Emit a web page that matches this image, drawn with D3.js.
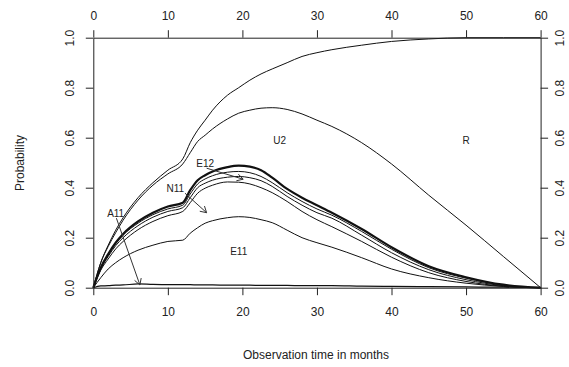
<!DOCTYPE html>
<html>
<head>
<meta charset="utf-8">
<script src="https://cdn.jsdelivr.net/npm/d3@7"></script>
<style>
  body { margin: 0; background: #fff; }
  svg { font-family: "Liberation Sans", Arial, sans-serif; }
</style>
</head>
<body>
<div id="container"></div>
<script>
// months and stacked probability boundaries
let months = [0, 1, 2, 3, 4, 6, 8, 10, 12, 13, 14, 15, 16, 18, 19.5, 21, 22.5, 24, 26, 28, 30, 32, 36, 40, 45, 50, 55, 60];

let topCurve = [0, 0.10, 0.17, 0.23, 0.28, 0.36, 0.42, 0.47, 0.515, 0.58, 0.63, 0.67, 0.71, 0.77, 0.80, 0.83, 0.855, 0.875, 0.90, 0.925, 0.94, 0.952, 0.97, 0.985, 0.995, 1.0, 1.0, 1.0];
let u2Curve = [0, 0.10, 0.165, 0.22, 0.27, 0.35, 0.41, 0.455, 0.495, 0.54, 0.585, 0.61, 0.635, 0.675, 0.698, 0.71, 0.718, 0.72, 0.713, 0.695, 0.67, 0.645, 0.58, 0.495, 0.37, 0.25, 0.125, 0];
let e12Thick = [0, 0.08, 0.135, 0.18, 0.215, 0.265, 0.30, 0.325, 0.34, 0.39, 0.43, 0.45, 0.465, 0.482, 0.488, 0.484, 0.47, 0.44, 0.395, 0.36, 0.33, 0.30, 0.235, 0.162, 0.086, 0.042, 0.012, 0];
let band2 = [0, 0.078, 0.13, 0.175, 0.21, 0.258, 0.292, 0.315, 0.33, 0.375, 0.415, 0.435, 0.448, 0.462, 0.465, 0.46, 0.445, 0.42, 0.38, 0.345, 0.315, 0.29, 0.225, 0.154, 0.08, 0.038, 0.01, 0];
let band3 = [0, 0.075, 0.125, 0.168, 0.20, 0.248, 0.282, 0.305, 0.32, 0.36, 0.40, 0.418, 0.43, 0.442, 0.445, 0.44, 0.428, 0.405, 0.365, 0.33, 0.30, 0.278, 0.21, 0.14, 0.072, 0.032, 0.008, 0];
let n11Curve = [0, 0.07, 0.115, 0.155, 0.185, 0.232, 0.265, 0.288, 0.305, 0.34, 0.378, 0.398, 0.41, 0.423, 0.422, 0.415, 0.40, 0.38, 0.345, 0.305, 0.272, 0.244, 0.185, 0.122, 0.06, 0.025, 0.006, 0];
let e11Curve = [0, 0.04, 0.075, 0.10, 0.12, 0.15, 0.17, 0.185, 0.19, 0.218, 0.24, 0.258, 0.268, 0.28, 0.284, 0.281, 0.272, 0.26, 0.23, 0.20, 0.18, 0.162, 0.12, 0.075, 0.04, 0.018, 0.005, 0];
let a11Curve = [0, 0.007, 0.008, 0.01, 0.011, 0.015, 0.013, 0.012, 0.012, 0.012, 0.011, 0.011, 0.011, 0.01, 0.01, 0.01, 0.009, 0.009, 0.009, 0.008, 0.008, 0.008, 0.006, 0.005, 0.004, 0.003, 0.002, 0];

let curves = [topCurve, u2Curve, e12Thick, band2, band3, n11Curve, e11Curve, a11Curve];
let widths = [1, 1, 2.2, 1, 1, 1, 1, 1.2];

// region labels [month, probability, text]
let labels = [[25, 0.59, "U2"], [50, 0.59, "R"], [15, 0.495, "E12"], [11, 0.395, "N11"], [3, 0.295, "A11"], [19.5, 0.145, "E11"]];
// arrows [fromMonth, fromProb, toMonth, toProb]
let arrows = [[15.2, 0.478, 20.1, 0.434], [12.3, 0.378, 15.2, 0.30], [3.1, 0.278, 6.25, 0.011]];

let xTicks = [0, 10, 20, 30, 40, 50, 60];
let yTicks = [0, 0.2, 0.4, 0.6, 0.8, 1.0];

let w = 569;
let h = 367;
let viz = d3.select("#container")
  .append("svg")
    .attr("width", w)
    .attr("height", h)
;

let xScale = d3.scaleLinear().domain([0, 60]).range([93.3, 540.6]);
let yScale = d3.scaleLinear().domain([0, 1]).range([287.7, 37.7]);

let lineMaker = d3.line()
  .x(function(d){ return xScale(d[0]) })
  .y(function(d){ return yScale(d[1]) })
  .curve(d3.curveMonotoneX);

curves.forEach(function(c, i){
  let pts = months.map(function(m, j){ return [m, c[j]] });
  viz.append("path")
    .datum(pts)
    .attr("d", lineMaker)
    .attr("fill", "none")
    .attr("stroke", "#111")
    .attr("stroke-width", widths[i]);
});

// axes on all four sides
function styleAxis(g){
  g.selectAll("path, line").attr("stroke", "#222");
  g.selectAll("text").attr("font-size", 12).attr("fill", "#222")
    .attr("font-family", "Liberation Sans, Arial, sans-serif");
}
let fmtY = d3.format(".1f");

let bottomAxis = viz.append("g").attr("transform", "translate(0," + yScale(0) + ")")
  .call(d3.axisBottom(xScale).tickValues(xTicks).tickSize(7.5).tickSizeOuter(0).tickPadding(12));
styleAxis(bottomAxis);

let topAxis = viz.append("g").attr("transform", "translate(0," + yScale(1) + ")")
  .call(d3.axisTop(xScale).tickValues(xTicks).tickSize(7.5).tickSizeOuter(0).tickPadding(10));
styleAxis(topAxis);

let leftAxis = viz.append("g").attr("transform", "translate(" + xScale(0) + ",0)")
  .call(d3.axisLeft(yScale).tickValues(yTicks).tickFormat(fmtY).tickSize(7.5).tickSizeOuter(0));
styleAxis(leftAxis);
leftAxis.selectAll("text")
  .attr("x", 0).attr("dy", null)
  .attr("text-anchor", "middle")
  .attr("dominant-baseline", "central")
  .attr("transform", "translate(-23,0) rotate(-90)");

let rightAxis = viz.append("g").attr("transform", "translate(" + xScale(60) + ",0)")
  .call(d3.axisRight(yScale).tickValues(yTicks).tickFormat(fmtY).tickSize(7.5).tickSizeOuter(0));
styleAxis(rightAxis);
rightAxis.selectAll("text")
  .attr("x", 0).attr("dy", null)
  .attr("text-anchor", "middle")
  .attr("dominant-baseline", "central")
  .attr("transform", "translate(19,0) rotate(-90)");

// region labels
viz.selectAll(".lab").data(labels).enter()
  .append("text")
    .attr("x", function(d){ return xScale(d[0]) })
    .attr("y", function(d){ return yScale(d[1]) })
    .attr("text-anchor", "middle")
    .attr("dominant-baseline", "central")
    .attr("font-size", 10)
    .attr("fill", "#222")
    .text(function(d){ return d[2] });

// arrows with open heads
arrows.forEach(function(a){
  let x1 = xScale(a[0]), y1 = yScale(a[1]), x2 = xScale(a[2]), y2 = yScale(a[3]);
  let ang = Math.atan2(y2 - y1, x2 - x1);
  let len = 7;
  let spread = Math.PI / 6;
  viz.append("path")
    .attr("d", "M" + x1 + "," + y1 + "L" + x2 + "," + y2 +
      "M" + (x2 - len * Math.cos(ang - spread)) + "," + (y2 - len * Math.sin(ang - spread)) +
      "L" + x2 + "," + y2 +
      "L" + (x2 - len * Math.cos(ang + spread)) + "," + (y2 - len * Math.sin(ang + spread)))
    .attr("fill", "none")
    .attr("stroke", "#333")
    .attr("stroke-width", 1);
});

// axis titles
viz.append("text")
  .attr("x", 316).attr("y", 355)
  .attr("text-anchor", "middle").attr("dominant-baseline", "central")
  .attr("font-size", 12).attr("fill", "#222")
  .text("Observation time in months");
viz.append("text")
  .attr("transform", "translate(20,163) rotate(-90)")
  .attr("text-anchor", "middle").attr("dominant-baseline", "central")
  .attr("font-size", 12).attr("fill", "#222")
  .text("Probability");
</script>
</body>
</html>
